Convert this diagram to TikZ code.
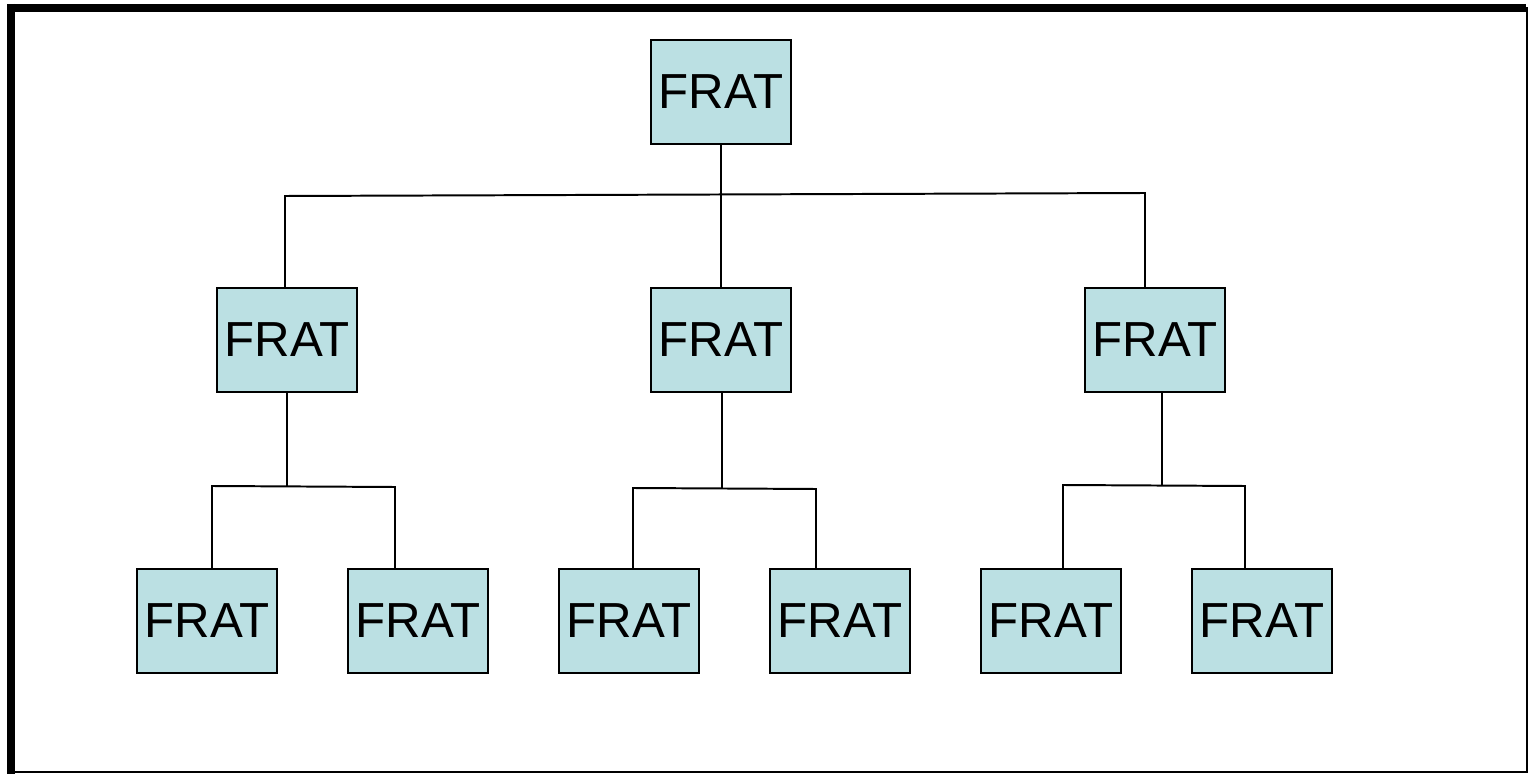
\documentclass[tikz,border=0pt]{standalone}
\usepackage{fontspec}
\setmainfont{Liberation Sans}
\definecolor{fratfill}{HTML}{BBE0E3}

\begin{document}
\begin{tikzpicture}[x=0.025cm,y=-0.025cm,
	frat/.style={draw=black,line width=1.2pt,fill=fratfill,minimum width=3.5cm,minimum height=2.6cm,inner sep=0pt,font=\fontsize{35}{40}\selectfont},
	link/.style={draw=black,line width=1.4pt}]
	\useasboundingbox (0,0) rectangle (1528,774);
	
	% frame
	\draw [line width=1.3pt] (11,8) -- (1527,8) -- (1527,772) -- (11,772);
	\draw [line width=0.2cm] (7,8) -- (1526,8);
	\draw [line width=0.2cm] (11,4) -- (11,774);
	
	
	
	% boxes
	\node[frat] (t) at (721,92) {FRAT};
	
	\node[frat] (m1) at (287,340) {FRAT};
	\node[frat] (m2) at (721,340) {FRAT};
	\node[frat] (m3) at (1155,340) {FRAT};
	
	\node[frat] (b1) at (207,621) {FRAT};
	\node[frat] (b2) at (418,621) {FRAT};
	\node[frat] (b3) at (629,621) {FRAT};
	\node[frat] (b4) at (840,621) {FRAT};
	\node[frat] (b5) at (1051,621) {FRAT};
	\node[frat] (b6) at (1262,621) {FRAT};
	
	
	
	% top branch
	\coordinate (bl) at (285,196);
	\coordinate (br) at (1145,193);
	\draw [link] (t.south) -- (m2.north);
	\draw [link] (bl |- m1.north) -- (bl) -- (br) -- (br |- m3.north);
	
	
	
	% lower branches
	\coordinate (l1) at (212,486);
	\coordinate (r1) at (395,487);
	\coordinate (l2) at (633,488);
	\coordinate (r2) at (816,489);
	\coordinate (l3) at (1063,485);
	\coordinate (r3) at (1245,486);
	\coordinate (s3) at (1162,486);
	
	\draw [link] (m1.south) -- (m1.south |- l1);
	\draw [link] (l1 |- b1.north) -- (l1) -- (r1) -- (r1 |- b2.north);
	
	\draw [link] ([xshift=1]m2.south) -- ([xshift=1]m2.south |- l2);
	\draw [link] (l2 |- b3.north) -- (l2) -- (r2) -- (r2 |- b4.north);
	
	\draw [link] (s3 |- m3.south) -- (s3);
	\draw [link] (l3 |- b5.north) -- (l3) -- (r3) -- (r3 |- b6.north);
	 
\end{tikzpicture}
\end{document}
